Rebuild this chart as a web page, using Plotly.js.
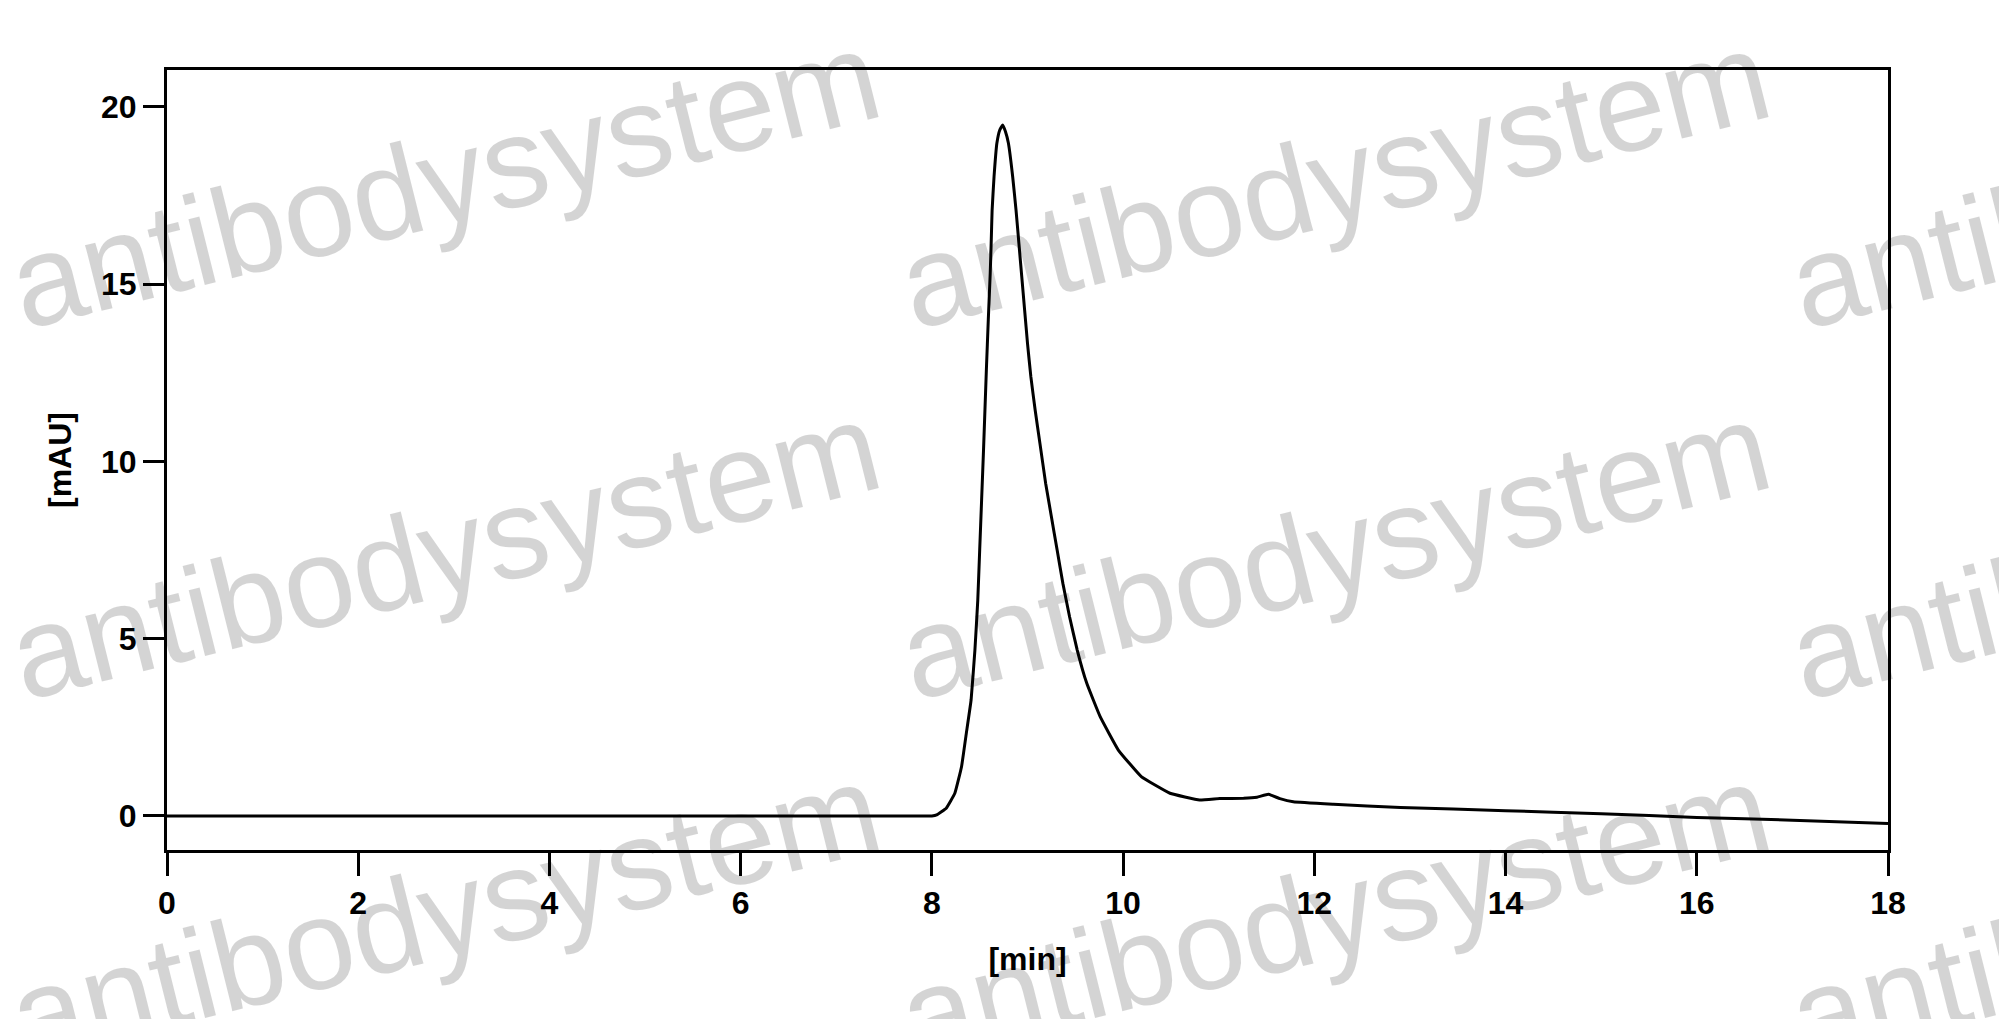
<!DOCTYPE html>
<html>
<head>
<meta charset="utf-8">
<script src="https://cdn.plot.ly/plotly-3.0.1.min.js"></script>
<style>
  html, body { margin: 0; padding: 0; background: #fff; }
  #chart { width: 1999px; height: 1019px; }
</style>
</head>
<body>
<div id="chart"></div>
<script>
// retention time [min] and absorbance [mAU]
const timeMin = [
    0, 2, 4, 6, 7.5, 8.0, 8.05, 8.15, 8.24, 8.31, 8.36, 8.41, 8.45, 8.48, 8.50,
    8.52, 8.54, 8.57, 8.59, 8.61, 8.62, 8.63, 8.65, 8.68, 8.71, 8.74, 8.77,
    8.80, 8.845, 8.88, 8.91, 8.94, 8.97, 9.00, 9.035, 9.08, 9.13, 9.19, 9.25,
    9.31, 9.37, 9.44, 9.52, 9.62, 9.76, 9.95, 10.19, 10.49, 10.80, 11.01, 11.26,
    11.40, 11.52, 11.64, 11.78, 12.2, 12.9, 14, 15, 16, 17, 18
];
const absorbance = [
    0, 0, 0, 0, 0, 0, 0.03, 0.22, 0.64, 1.39, 2.33, 3.27, 4.68, 6.09, 7.50,
    8.91, 10.32, 12.6, 14.0, 15.3, 16.15, 17.09, 18.03, 18.98, 19.35, 19.49, 19.3,
    18.98, 18.03, 17.09, 16.15, 15.21, 14.27, 13.33, 12.39, 11.45, 10.51, 9.38, 8.44,
    7.50, 6.56, 5.62, 4.68, 3.74, 2.80, 1.86, 1.11, 0.64, 0.45, 0.49, 0.50,
    0.53, 0.61, 0.49, 0.40, 0.33, 0.24, 0.15, 0.06, -0.04, -0.12, -0.21
];
const xTicks = [0, 2, 4, 6, 8, 10, 12, 14, 16, 18];
const yTicks = [0, 5, 10, 15, 20];

const watermark = 'antibodysystem';
const markCols = [444, 1334, 2224];
const markRows = [180, 550, 912];

window.onload = () => {
    const tickFont = {
        family: 'Arial, "Liberation Sans", sans-serif',
        size: 32,
        color: '#000',
        weight: 'bold'
    };

    const trace = {
        x: timeMin,
        y: absorbance,
        type: 'scatter',
        mode: 'lines',
        line: { color: '#000', width: 3, shape: 'spline', smoothing: 0.3 },
        hoverinfo: 'none'
    };

    const annotations = [];
    markRows.forEach((py) => {
        markCols.forEach((px) => {
            annotations.push({
                text: watermark,
                xref: 'paper', yref: 'paper',
                x: (px - 167) / 1721,
                y: 1 - (py - 70) / 780,
                xanchor: 'center', yanchor: 'middle',
                showarrow: false,
                textangle: -14,
                font: { family: 'Arial, "Liberation Sans", sans-serif', size: 128, color: 'rgba(0,0,0,0.17)' }
            });
        });
    });

    const layout = {
        width: 1999,
        height: 1019,
        margin: { l: 167, r: 111, t: 70, b: 169 },
        paper_bgcolor: '#fff',
        plot_bgcolor: '#fff',
        showlegend: false,
        xaxis: {
            range: [0, 18],
            tickvals: xTicks,
            ticks: 'outside',
            ticklen: 23,
            tickwidth: 3,
            tickcolor: '#000',
            showline: true,
            linewidth: 3,
            linecolor: '#000',
            mirror: true,
            showgrid: false,
            zeroline: false,
            tickfont: tickFont,
            title: { text: '[min]', font: tickFont, standoff: 28 }
        },
        yaxis: {
            range: [-0.96, 21.04],
            tickvals: yTicks,
            ticks: 'outside',
            ticklen: 21,
            tickwidth: 3,
            tickcolor: '#000',
            showline: true,
            linewidth: 3,
            linecolor: '#000',
            mirror: true,
            showgrid: false,
            zeroline: false,
            tickfont: tickFont,
            title: { text: '[mAU]', font: tickFont, standoff: 20 }
        },
        annotations: annotations
    };

    Plotly.newPlot(document.getElementById('chart'), [trace], layout, { staticPlot: true });
};
</script>
</body>
</html>
